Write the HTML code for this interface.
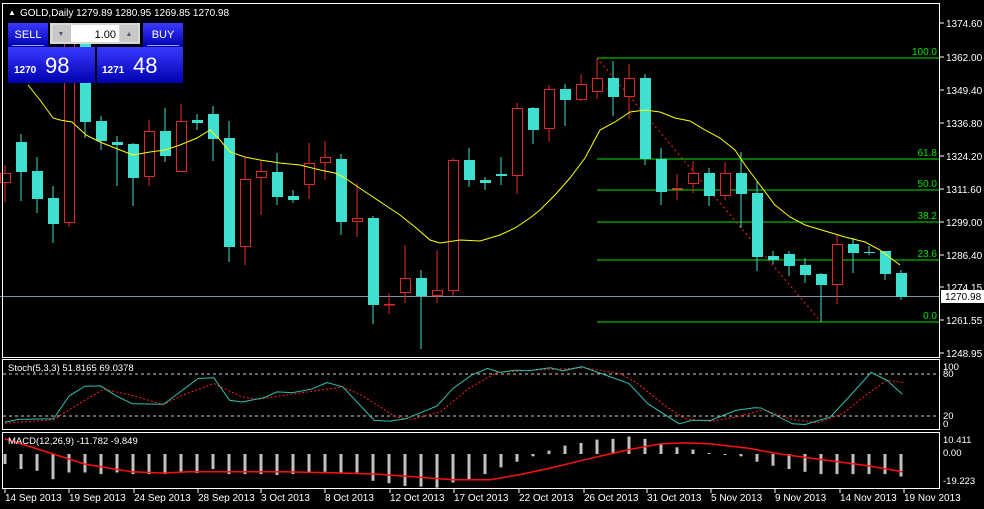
<!DOCTYPE html>
<html><head><meta charset="utf-8"><style>
html,body{margin:0;padding:0;background:#000;width:984px;height:509px;overflow:hidden}
svg{display:block;font-family:"Liberation Sans",sans-serif}
</style></head><body>
<svg id="s" width="984" height="509" viewBox="0 0 984 509" xmlns="http://www.w3.org/2000/svg">
<rect width="984" height="509" fill="#000"/>
<g id="g"></g>
</svg>
<script>
const g=document.getElementById('g');let h='';
const C='#40e0d0',R='#e02828';
// candles: [type(1 cyan,0 red), bodyTop, bodyBot, wickTop, wickBot]
const c=[[0,173,183,165,202],[1,142,172,134,201],[1,171,199,157,213],[1,198,224,186,243],[0,40,223,40,227],[1,40,122,40,138],[1,121,141,116,150],[1,142,145,136,186],[1,144,178,143,206],[0,131,177,120,186],[1,131,156,108,162],[0,121,172,104,172],[1,120,123,114,130],[1,114,139,106,161],[1,138,247,121,262],[0,179,247,157,265],[0,171,178,160,215],[1,172,197,153,205],[1,196,200,190,203],[0,163,185,143,199],[0,157,163,141,180],[1,159,222,154,235],[0,218,222,183,237],[1,218,305,216,324],[0,304,305,293,314],[0,278,293,245,303],[1,278,296,270,349],[0,290,296,250,303],[0,160,291,158,296],[1,160,180,148,187],[1,180,183,177,190],[1,174,176,157,185],[0,108,176,103,194],[1,108,130,107,144],[0,89,129,85,142],[1,89,100,84,126],[0,84,100,74,101],[0,78,92,59,99],[1,78,97,61,116],[0,78,97,64,119],[1,78,159,74,165],[1,159,192,148,205],[0,188,189,174,200],[0,173,184,161,193],[1,173,196,168,206],[0,173,196,162,200],[1,173,194,152,228],[1,193,257,182,271],[1,256,260,251,264],[1,254,266,251,276],[1,265,275,258,283],[1,274,285,273,322],[0,244,285,234,304],[1,244,253,238,273],[1,252,253,246,255],[1,251,274,251,280],[1,273,297,270,300]];
const X=i=>5+16*i;
// fib
[[58,'100.0'],[159,'61.8'],[190,'50.0'],[222,'38.2'],[260,'23.6'],[322,'0.0']].forEach(([y,t])=>{h+=`<line x1="597" x2="940" y1="${y}" y2="${y}" stroke="#00e000" stroke-width="1"/><text x="937" y="${y-3}" fill="#00e000" font-size="10" text-anchor="end">${t}</text>`});
h+=`<line x1="597" y1="58" x2="821" y2="322" stroke="#ff2020" stroke-dasharray="2,3"/>`;
h+=`<line x1="0" x2="940" y1="296.5" y2="296.5" stroke="#8090a0"/>`;
c.forEach((d,i)=>{const x=X(i),col=d[0]?C:R;
h+=`<line x1="${x}" x2="${x}" y1="${d[3]}" y2="${d[4]}" stroke="${col}"/>`;
let hh=Math.max(d[2]-d[1],1);
if(d[0])h+=`<rect x="${x-5}" y="${d[1]}" width="11" height="${hh}" fill="${C}"/>`;
else h+=`<rect x="${x-4.5}" y="${d[1]+.5}" width="10" height="${Math.max(hh-1,0.5)}" fill="#000" stroke="${R}"/>`;});
const ma=[[28,85],[40,100],[53,118],[60,120],[72,122],[86,135],[100,142],[115,148],[133,155],[150,152],[165,150],[180,145],[197,138],[210,130],[220,140],[230,152],[245,157],[260,160],[280,163],[300,165],[320,170],[335,173],[345,178],[355,185],[370,195],[385,205],[400,215],[415,227],[430,240],[440,243],[460,240],[480,241],[500,235],[515,228],[530,218],[540,210],[555,195],[570,178],[585,158],[600,130],[615,122],[630,112],[645,110],[660,112],[675,118],[690,121],[705,130],[720,138],[735,150],[745,165],[760,185],[775,205],[790,217],[805,225],[825,231],[845,237],[865,242],[880,250],[900,265]];
h+=`<polyline points="${ma.join(' ')}" fill="none" stroke="#ffff00" stroke-width="1"/>`;
// frames
h+=`<rect x="2.5" y="3.5" width="937" height="354" fill="none" stroke="#fff"/>`;
h+=`<rect x="2.5" y="359.5" width="937" height="70" fill="none" stroke="#fff"/>`;
h+=`<rect x="2.5" y="432.5" width="937" height="56" fill="none" stroke="#fff"/>`;
// price axis
[[23,'1374.60'],[57,'1362.00'],[90,'1349.40'],[123,'1336.80'],[156,'1324.20'],[189,'1311.60'],[222,'1299.00'],[255,'1286.40'],[287,'1274.15'],[320,'1261.55'],[353,'1248.95']].forEach(([y,t])=>{h+=`<line x1="940" x2="944" y1="${y}" y2="${y}" stroke="#fff"/><text x="946" y="${y+4}" fill="#fff" font-size="10">${t}</text>`});
h+=`<rect x="941" y="290" width="43" height="13" fill="#fff"/><text x="945" y="300" fill="#000" font-size="10">1270.98</text>`;
// stoch
const sy=y=>355+y/2.98,sx=x=>x/1.59;
h+=`<line x1="3" x2="940" y1="374" y2="374" stroke="#ccc" stroke-dasharray="3,3"/><line x1="3" x2="940" y1="416" y2="416" stroke="#ccc" stroke-dasharray="3,3"/>`;
const st=[[8,200],[30,192],[85,190],[110,122],[135,93],[160,92],[185,122],[210,145],[260,147],[315,70],[340,68],[365,135],[385,140],[420,127],[440,110],[465,112],[495,102],[520,82],[545,95],[595,195],[620,197],[645,190],[695,152],[720,100],[750,60],[775,40],[795,52],[820,45],[840,47],[875,38],[895,47],[925,35],[960,58],[1000,85],[1030,145],[1080,205],[1100,195],[1130,195],[1170,165],[1200,157],[1210,158],[1260,205],[1280,207],[1320,185],[1350,125],[1385,52],[1410,75],[1435,117]];
const sr=[[8,203],[85,193],[130,140],[165,102],[210,120],[260,148],[290,120],[340,85],[385,125],[410,132],[470,115],[545,95],[575,120],[630,185],[655,192],[700,170],[745,100],[790,52],[850,45],[930,38],[985,55],[1010,80],[1060,155],[1090,190],[1130,198],[1170,185],[1215,163],[1255,190],[1300,202],[1340,175],[1380,115],[1410,75],[1435,82]];
const P=a=>a.map(([x,y])=>sx(x).toFixed(1)+','+sy(y).toFixed(1)).join(' ');
h+=`<polyline points="${P(sr)}" fill="none" stroke="#ff2020" stroke-dasharray="2,2"/>`;
h+=`<polyline points="${P(st)}" fill="none" stroke="#30c0b0"/>`;
h+=`<text x="8" y="371" fill="#fff" font-size="9.5">Stoch(5,3,3) 51.8165 69.0378</text>`;
[[370,'100'],[377,'80'],[419,'20'],[427,'0']].forEach(([y,t])=>h+=`<text x="943" y="${y}" fill="#fff" font-size="9.5">${t}</text>`);
// macd
const mv=[325,340,345,370,350,350,355,350,355,355,355,348,352,340,355,355,355,358,355,350,348,352,350,375,382,390,392,395,380,370,355,335,318,302,285,270,262,252,250,243,250,265,275,282,292,296,302,318,330,340,348,355,355,355,355,355,362];
const z=sy(295);
mv.forEach((v,i)=>{const y=sy(v),x=X(i);h+=`<rect x="${x-1.5}" y="${Math.min(y,z).toFixed(1)}" width="3" height="${Math.max(Math.abs(y-z),1).toFixed(1)}" fill="#c0c0c0"/>`});
const ms=[[8,250],[60,280],[135,325],[210,348],[260,352],[300,348],[450,348],[550,352],[600,355],[720,372],[780,372],[830,355],[880,335],[930,312],[1000,282],[1050,265],[1090,262],[1130,265],[1190,278],[1240,295],[1300,310],[1380,330],[1435,348]];
h+=`<polyline points="${P(ms)}" fill="none" stroke="#ff1010" stroke-width="1.5"/>`;
h+=`<text x="8" y="444" fill="#fff" font-size="9.5">MACD(12,26,9) -11.782 -9.849</text>`;
[[443,'10.411'],[456,'0.00'],[484,'-19.223']].forEach(([y,t])=>h+=`<text x="943" y="${y}" fill="#fff" font-size="9.5">${t}</text>`);
// dates
['14 Sep 2013','19 Sep 2013','24 Sep 2013','28 Sep 2013','3 Oct 2013','8 Oct 2013','12 Oct 2013','17 Oct 2013','22 Oct 2013','26 Oct 2013','31 Oct 2013','5 Nov 2013','9 Nov 2013','14 Nov 2013','19 Nov 2013'].forEach((t,i)=>{const x=[5,69,134,198,261,325,390,454,519,584,647,711,775,840,904][i];h+=`<line x1="${x}" x2="${x}" y1="489" y2="493" stroke="#fff"/><text x="${x}" y="501" fill="#fff" font-size="10">${t}</text>`});
// header
h+=`<text x="8" y="15" fill="#fff" font-size="8">▲</text><text x="20" y="16" fill="#fff" font-size="10">GOLD,Daily  1279.89 1280.95 1269.85 1270.98</text>`;
h+=`<defs><linearGradient id="bg" x1="0" y1="0" x2="0" y2="1"><stop offset="0" stop-color="#3a3aff"/><stop offset="1" stop-color="#0000b0"/></linearGradient></defs>`;
h+=`<rect x="8" y="23" width="40" height="24" fill="url(#bg)"/><line x1="12" x2="44" y1="45.5" y2="45.5" stroke="#9aa0ff"/><text x="28" y="38" fill="#fff" font-size="11" text-anchor="middle">SELL</text>`;
h+=`<rect x="143" y="23" width="40" height="24" fill="url(#bg)"/><line x1="147" x2="179" y1="45.5" y2="45.5" stroke="#9aa0ff"/><text x="163" y="38" fill="#fff" font-size="11" text-anchor="middle">BUY</text>`;
h+=`<rect x="50" y="23" width="90" height="21" fill="#d8d8d8"/><rect x="71" y="25" width="48" height="17" fill="#fff"/><rect x="53" y="25" width="18" height="17" fill="#c8c8c8"/><rect x="120" y="25" width="18" height="17" fill="#c8c8c8"/><text x="61" y="36" fill="#556" font-size="7" text-anchor="middle">▼</text><text x="129" y="36" fill="#556" font-size="7" text-anchor="middle">▲</text><text x="116" y="38" fill="#000" font-size="11" text-anchor="end">1.00</text>`;
h+=`<rect x="8" y="47" width="87" height="36" fill="url(#bg)"/><rect x="97" y="47" width="86" height="36" fill="url(#bg)"/>`;
h+=`<text x="14" y="73" fill="#fff" font-size="10" font-weight="bold">1270</text><text x="45" y="73" fill="#fff" font-size="22">98</text>`;
h+=`<text x="102" y="73" fill="#fff" font-size="10" font-weight="bold">1271</text><text x="133" y="73" fill="#fff" font-size="22">48</text>`;
g.innerHTML=h;
</script>
</body></html>
